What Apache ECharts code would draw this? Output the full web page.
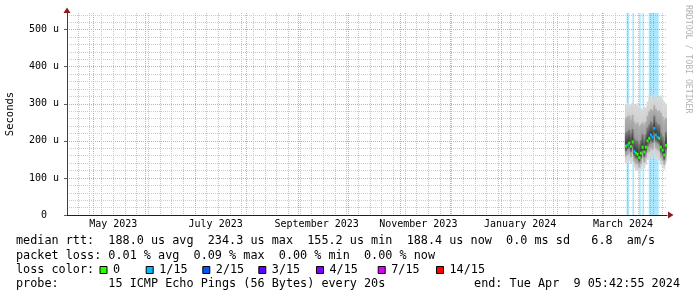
<!DOCTYPE html>
<html><head><meta charset="utf-8">
<script src="https://cdn.jsdelivr.net/npm/echarts@6/dist/echarts.min.js"></script>
<style>html,body{margin:0;padding:0;background:#fff}#c{width:697px;height:297px}</style>
</head><body><div id="c"></div>
<script>
// ---------- data ----------
const rangeStart = '2023-04-15 12:26';
const rangeEnd = '2024-04-09 05:42:55';
const yMax = 545; // microseconds
const yTickStep = 100;
const yMinorStep = 20;
const monthStarts = ['2023-05-01','2023-06-01','2023-07-01','2023-08-01','2023-09-01','2023-10-01','2023-11-01','2023-12-01','2024-01-01','2024-02-01','2024-03-01','2024-04-01'];
const weekStarts = ['2023-04-22','2023-04-29','2023-05-06','2023-05-13','2023-05-20','2023-05-27','2023-06-03','2023-06-10','2023-06-17','2023-06-24','2023-07-01','2023-07-08','2023-07-15','2023-07-22','2023-07-29','2023-08-05','2023-08-12','2023-08-19','2023-08-26','2023-09-02','2023-09-09','2023-09-16','2023-09-23','2023-09-30','2023-10-07','2023-10-14','2023-10-21','2023-10-28','2023-11-04','2023-11-11','2023-11-18','2023-11-25','2023-12-02','2023-12-09','2023-12-16','2023-12-23','2023-12-30','2024-01-06','2024-01-13','2024-01-20','2024-01-27','2024-02-03','2024-02-10','2024-02-17','2024-02-24','2024-03-02','2024-03-09','2024-03-16','2024-03-23','2024-03-30','2024-04-06'];
const xLabelDates = ['2023-05-13 06:00','2023-07-13 15:00','2023-09-12 05:00','2023-11-12 03:00','2024-01-12 05:00','2024-03-13 21:00'];
const xLabelTexts = ['May 2023','July 2023','September 2023','November 2023','January 2024','March 2024'];

const smokeDates = ['2024-03-15','2024-03-16','2024-03-17','2024-03-18','2024-03-19','2024-03-20','2024-03-21','2024-03-22','2024-03-23','2024-03-24','2024-03-25','2024-03-26','2024-03-27','2024-03-28','2024-03-29','2024-03-30','2024-03-31','2024-04-01','2024-04-02','2024-04-03','2024-04-04','2024-04-05','2024-04-06','2024-04-07','2024-04-08'];
const rttMin    = [140,142,146,138,144,128,120,118,112,122,134,126,136,148,150,156,152,166,152,148,146,136,130,124,142];
const rttP10    = [158,162,166,156,166,144,138,136,128,138,154,142,154,168,172,180,176,194,180,176,172,154,146,136,160];
const rttP25    = [172,176,180,170,182,158,152,150,142,152,168,156,168,184,190,198,194,214,198,194,190,168,160,148,174];
const rttMedian = [186,189,194,185,197,172,167,164,155,167,183,170,183,200,207,216,210,234,216,210,207,183,175,162,188];
const rttP75    = [222,226,230,220,232,208,202,200,192,202,218,206,218,236,244,252,248,268,252,246,244,222,212,200,224];
const rttP90    = [262,266,268,258,270,252,246,250,240,244,250,246,252,268,280,286,282,296,286,280,282,276,266,258,262];
const rttMax    = [298,302,300,296,304,300,297,302,296,288,284,292,290,306,318,322,314,326,320,316,318,322,312,306,300];
const lossIndex = [0,1,0,0,0,1,0,0,0,0,0,0,0,0,0,1,1,1,1,1,0,0,0,0,0];
const lossPeriods = [['2024-03-16 00:00','2024-03-17 12:00'],['2024-03-19 12:00','2024-03-20 12:00'],['2024-03-23 12:00','2024-03-24 12:00'],['2024-03-25 12:00','2024-03-26 12:00'],['2024-03-29 06:00','2024-04-04 06:00']];

const lossLabels = ['0','1/15','2/15','3/15','4/15','7/15','14/15'];
const lossColors = ['#26ff00','#00b8ff','#0059ff','#5e00ff','#7e00ff','#dd00ff','#ff0000'];
const legendLines = [
  'median rtt:  188.0 us avg  234.3 us max  155.2 us min  188.4 us now  0.0 ms sd   6.8  am/s',
  'packet loss: 0.01 % avg  0.09 % max  0.00 % min  0.00 % now',
  'loss color:',
  'probe:       15 ICMP Echo Pings (56 Bytes) every 20s'
];
const endText = 'end: Tue Apr  9 05:42:55 2024';
const watermark = 'RRDTOOL / TOBI OETIKER';

// ---------- helpers ----------
function tsOf(s){ const t = s.length === 10 ? s + 'T00:00:00' : s.replace(' ', 'T'); return Date.parse(t + 'Z'); }
const DAY = 86400000;
const MONO = '"DejaVu Sans Mono", monospace';
const LEGEND_FONT = '11.8px ' + MONO;
const labelMap = {};
xLabelDates.forEach((d, i) => { labelMap[tsOf(d)] = xLabelTexts[i]; });

function vLineSeries(dates, color) {
  return {
    type: 'custom', silent: true, clip: true,
    data: dates.map(d => [tsOf(d), 0]),
    encode: { x: 0, y: 1 },
    renderItem(params, api) {
      const b = api.coord([api.value(0), 0]);
      const t = api.coord([api.value(0), yMax]);
      const x = Math.round(b[0]) + 0.5;
      return { type: 'line', shape: { x1: x, y1: t[1], x2: x, y2: b[1] },
        style: { stroke: color, lineWidth: 1, lineDash: [1, 1] } };
    }
  };
}
function smokeSeries(lo, hi, edge, core) {
  return {
    type: 'custom', silent: true, clip: true,
    data: smokeDates.map((d, i) => [tsOf(d), lo[i], hi[i], rttMedian[i]]),
    encode: { x: 0, y: [1, 2] },
    renderItem(params, api) {
      const a = api.coord([api.value(0), api.value(2)]);
      const b = api.coord([api.value(0) + DAY, api.value(1)]);
      const m = api.coord([api.value(0), api.value(3)]);
      const f = Math.min(0.95, Math.max(0.05, (m[1] - a[1]) / (b[1] - a[1])));
      return { type: 'rect', shape: { x: a[0], y: a[1], width: b[0] - a[0] + 0.4, height: b[1] - a[1] },
        style: { fill: { type: 'linear', x: 0, y: 0, x2: 0, y2: 1,
          colorStops: [{ offset: 0, color: edge }, { offset: f, color: core }, { offset: 1, color: edge }] } } };
    }
  };
}

const chart = echarts.init(document.getElementById('c'), null, { renderer: 'canvas' });

const legendGraphics = [];
const lineY = [241, 255.5, 269.8, 284];
legendLines.forEach((s, i) => legendGraphics.push({
  type: 'text', x: 16, y: lineY[i],
  style: { text: s, font: LEGEND_FONT, fill: '#000', textVerticalAlign: 'middle' }
}));
legendGraphics.push({ type: 'text', x: 680, y: lineY[3],
  style: { text: endText, font: LEGEND_FONT, fill: '#000', textAlign: 'right', textVerticalAlign: 'middle' } });
const boxX = [99.5, 145.7, 202.3, 258.3, 316, 377.7, 436];
lossLabels.forEach((l, i) => {
  legendGraphics.push({ type: 'rect', shape: { x: boxX[i] + 0.5, y: 266.5, width: 7, height: 7 },
    style: { fill: lossColors[i], stroke: '#000', lineWidth: 1 } });
  legendGraphics.push({ type: 'text', x: boxX[i] + 13.5, y: lineY[2],
    style: { text: l, font: LEGEND_FONT, fill: '#000', textVerticalAlign: 'middle' } });
});
legendGraphics.push({ type: 'text', x: 688, y: 5, rotation: -Math.PI / 2,
  style: { text: watermark, font: '8.2px ' + MONO, fill: '#b4b4b4', textVerticalAlign: 'middle' } });
legendGraphics.push({ type: 'polygon', shape: { points: [[63.5, 13], [67, 7.5], [70.5, 13]] }, style: { fill: '#8b1a1a' } });
legendGraphics.push({ type: 'polygon', shape: { points: [[668, 211.5], [673.5, 215], [668, 218.5]] }, style: { fill: '#8b1a1a' } });

chart.setOption({
  animation: false,
  backgroundColor: '#ffffff',
  grid: { left: 67, right: 30, top: 13, bottom: 82, containLabel: false, outerBoundsMode: 'none' },
  xAxis: {
    type: 'value', min: tsOf(rangeStart), max: tsOf(rangeEnd),
    axisLine: { show: true, lineStyle: { color: '#202020', width: 1 } },
    axisTick: { show: false },
    splitLine: { show: false },
    axisLabel: {
      customValues: xLabelDates.map(tsOf),
      formatter: v => labelMap[v] || '',
      fontFamily: MONO, fontSize: 10, color: '#000', margin: 4
    }
  },
  yAxis: [{
    type: 'value', min: 0, max: yMax, interval: yTickStep, z: 0,
    name: 'Seconds', nameLocation: 'middle', nameGap: 51,
    nameTextStyle: { fontFamily: MONO, fontSize: 10.5, color: '#000' },
    axisLine: { show: true, lineStyle: { color: '#404040' } },
    axisTick: { show: true, length: 3, lineStyle: { color: '#606060' } },
    axisLabel: {
      fontFamily: MONO, fontSize: 10, color: '#000', margin: 8, showMaxLabel: false,
      formatter: v => v === 0 ? '0  ' : (v % yTickStep === 0 ? v + ' u' : '')
    },
    splitLine: { show: true, showMinLine: false, showMaxLine: false, lineStyle: { color: '#e8a0a0', type: [1, 1] } }
  }, {
    type: 'value', min: 0, max: yMax, interval: yMinorStep, position: 'left', z: -1,
    axisLine: { show: false }, axisTick: { show: false }, axisLabel: { show: false },
    splitLine: { show: true, showMinLine: false, showMaxLine: false, lineStyle: { color: '#cccccc', type: [1, 1] } }
  }],
  graphic: legendGraphics,
  series: [
    vLineSeries(weekStarts, '#c4c4c4'),
    vLineSeries(monthStarts, '#e8a0a0'),
    {
      type: 'custom', silent: true, clip: true,
      data: lossPeriods.map(p => [tsOf(p[0]), tsOf(p[1])]),
      encode: { x: [0, 1] },
      renderItem(params, api) {
        const a = api.coord([api.value(0), yMax]);
        const b = api.coord([api.value(1), 0]);
        return { type: 'rect', shape: { x: a[0], y: a[1], width: b[0] - a[0], height: b[1] - a[1] },
          style: { fill: 'rgba(0,184,255,0.33)' } };
      }
    },
    smokeSeries(rttMin, rttMax, '#dadada', '#bcbcbc'),
    smokeSeries(rttP10, rttP90, '#b0b0b0', '#8a8a8a'),
    smokeSeries(rttP25, rttP75, '#808080', '#2e2e2e'),
    {
      type: 'custom', silent: true, clip: true,
      data: smokeDates.map((d, i) => [tsOf(d), rttMedian[i], lossIndex[i]]),
      encode: { x: 0, y: 1 },
      renderItem(params, api) {
        const a = api.coord([api.value(0), api.value(1)]);
        const b = api.coord([api.value(0) + DAY, api.value(1)]);
        return { type: 'rect', shape: { x: a[0], y: a[1] - 1.5, width: b[0] - a[0] + 0.3, height: 3 },
          style: { fill: lossColors[api.value(2)] } };
      }
    }
  ]
});
</script></body></html>
